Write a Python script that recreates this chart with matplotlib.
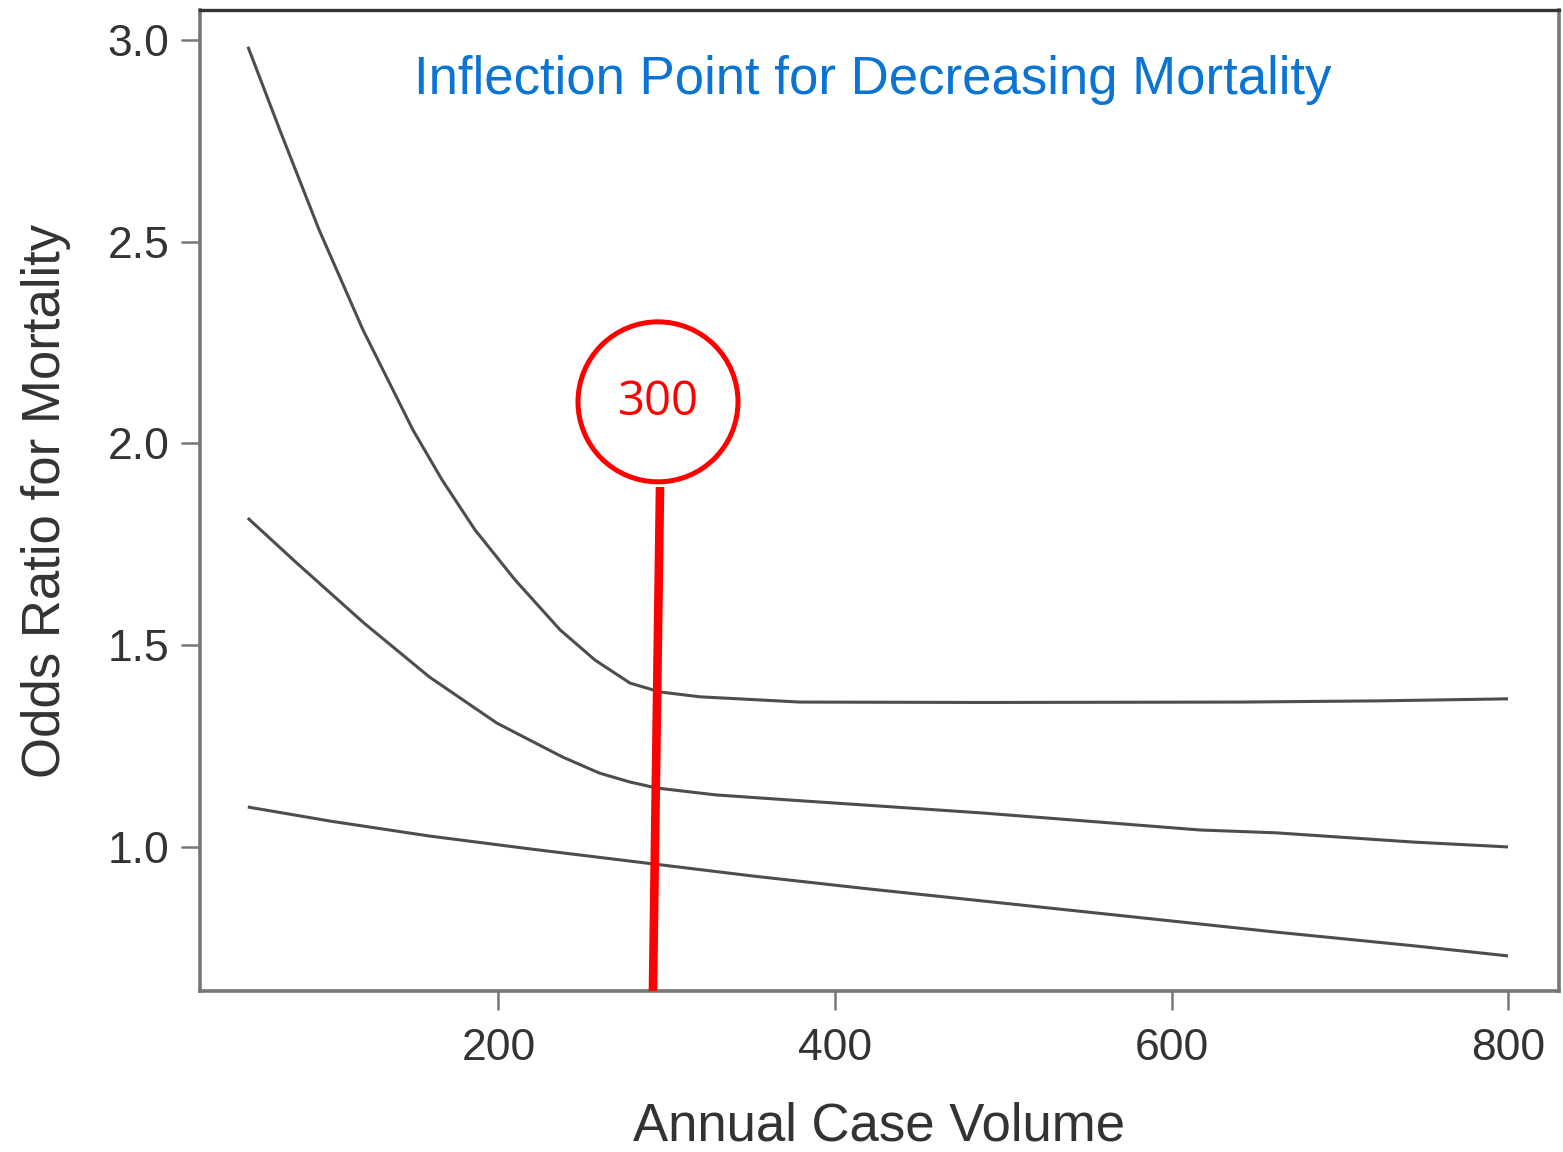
import matplotlib
matplotlib.use("Agg")
import matplotlib.pyplot as plt
from matplotlib.patches import Ellipse

# ---- data ----
upper_x = [51.1, 70.0, 93.4, 119.5, 149.2, 166.4, 186.0, 209.8, 236.6, 257.4, 278.2, 296.0, 319.8,
           379.2, 488.0, 641.5, 723.5, 800]
upper_y = [2.983, 2.777, 2.529, 2.281, 2.033, 1.910, 1.786, 1.662, 1.538, 1.463, 1.406, 1.384, 1.372,
           1.359, 1.358, 1.359, 1.362, 1.367]

middle_x = [51, 80, 120, 159, 199, 238, 260, 278, 294, 329, 374, 442, 488, 556, 617, 662, 744, 800]
middle_y = [1.815, 1.704, 1.555, 1.421, 1.307, 1.223, 1.183, 1.161, 1.146, 1.129, 1.116, 1.097,
            1.084, 1.062, 1.042, 1.035, 1.012, 1.000]

lower_x = [51, 100, 159, 219, 278, 351, 420, 488, 556, 617, 662, 744, 800]
lower_y = [1.099, 1.064, 1.027, 0.995, 0.965, 0.928, 0.896, 0.866, 0.836, 0.809, 0.789, 0.755, 0.730]

x_ticks = [200, 400, 600, 800]
y_ticks = [1.0, 1.5, 2.0, 2.5, 3.0]
y_tick_labels = ["1.0", "1.5", "2.0", "2.5", "3.0"]

title_text = "Inflection Point for Decreasing Mortality"
x_label = "Annual Case Volume"
y_label = "Odds Ratio for Mortality"
marker_label = "300"
# annotation: pin line (x top, x bottom, y top) and circle centre
pin_x_top, pin_x_bottom, pin_y_top = 296, 291.8, 1.892
circle_x, circle_y = 294.8, 2.103

# ---- figure ----
plt.rcParams['font.family'] = ['Liberation Sans', 'DejaVu Sans']
fig = plt.figure(figsize=(15.63, 11.52), dpi=100)
ax = fig.add_axes([200 / 1563, 161 / 1152, 1359 / 1563, 981 / 1152])

line_color = '#4d4d4d'
for xs, ys in [(upper_x, upper_y), (middle_x, middle_y), (lower_x, lower_y)]:
    ax.plot(xs, ys, color=line_color, lw=2.2, solid_capstyle='butt', solid_joinstyle='round')

ax.set_xlim(22.6, 830.3)
ax.set_ylim(0.643, 3.074)

ax.set_xticks(x_ticks)
ax.set_xticklabels([str(v) for v in x_ticks])
ax.set_yticks(y_ticks)
ax.set_yticklabels(y_tick_labels)

for s in ['left', 'bottom', 'right']:
    ax.spines[s].set_color('#777777')
    ax.spines[s].set_linewidth(2.6)
ax.spines['top'].set_color('#333333')
ax.spines['top'].set_linewidth(2.4)

ax.tick_params(axis='both', direction='out', length=14, width=1.8, color='#777777',
               labelsize=32, labelcolor='#333333')
ax.tick_params(axis='y', pad=8)
ax.tick_params(axis='x', pad=13)

ax.set_xlabel(x_label, fontsize=38, color='#333333', labelpad=23)
ax.set_ylabel(y_label, fontsize=38, color='#333333', labelpad=26)

# red pin annotation
ax.plot([pin_x_top, pin_x_bottom], [pin_y_top, ax.get_ylim()[0]], color='#FF0000', lw=6.2,
        solid_capstyle='butt', clip_on=False, zorder=5)
# circle of radius ~80 px drawn in data units
rx = 80 / (1359 / (830.3 - 22.6))
ry = 80 / (981 / (3.074 - 0.643))
ax.add_patch(Ellipse((circle_x, circle_y), 2 * rx, 2 * ry, facecolor='white',
                     edgecolor='#FF0000', lw=3.6, zorder=6))
ax.text(circle_x, circle_y, marker_label, ha='center', va='center', fontsize=34,
        color='#FF0000', family=['Open Sans', 'DejaVu Sans'], zorder=7)

fig.text(873 / 1563, 1 - 80 / 1152, title_text, ha='center', va='center', fontsize=38,
         color='#0A74D4')

fig.savefig('out.png', dpi=100, facecolor='white')
